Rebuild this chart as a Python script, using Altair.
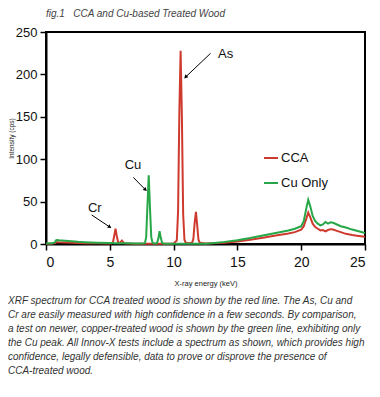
import altair as alt
import pandas as pd

# ---------------- data ----------------
energy_keV = [
    0.0, 0.5, 0.7, 0.8, 0.9, 1.0, 1.5, 2.0, 2.5, 3.0,
    4.0, 5.0, 5.15, 5.25, 5.35, 5.45, 5.55, 5.65, 5.75, 5.85,
    5.95, 6.05, 6.15, 6.5, 7.0, 7.5, 7.75, 7.85, 7.95, 8.05,
    8.15, 8.25, 8.35, 8.5, 8.7, 8.8, 8.9, 9.0, 9.1, 9.2,
    9.5, 10.0, 10.25, 10.35, 10.45, 10.55, 10.65, 10.75, 10.85, 10.95,
    11.2, 11.45, 11.55, 11.65, 11.75, 11.85, 11.95, 12.05, 12.5, 13.0,
    14.0, 15.0, 16.0, 17.0, 18.0, 19.0, 19.5, 20.0, 20.2, 20.4,
    20.55, 20.7, 20.9, 21.1, 21.3, 21.5, 21.7, 21.9, 22.1, 22.3,
    22.5, 22.8, 23.1, 23.5, 24.0, 24.5, 25.0,
]
cca_cps = [
    0.3, 0.5, 1.0, 2.0, 2.2, 2.0, 1.8, 1.5, 1.2, 1.0,
    0.8, 0.6, 0.8, 2.0, 10, 18, 9, 2, 1.0, 2.5,
    4.0, 2.0, 0.8, 0.5, 0.4, 0.4, 0.4, 0.4, 0.4, 0.4,
    0.4, 0.4, 0.4, 0.4, 0.4, 0.4, 0.4, 0.4, 0.4, 0.4,
    0.4, 0.6, 4, 38, 155, 228, 150, 35, 5, 1.5,
    1.0, 1.5, 6, 25, 38, 22, 5, 1.5, 0.6, 0.8,
    1.5, 3, 5, 7.5, 10, 12.5, 14, 17, 21, 30,
    37, 32, 24, 20, 18, 16, 16.5, 15, 16.5, 17.5,
    17, 15.5, 14, 12, 10.5, 9.5, 8.5,
]
cu_only_cps = [
    0.5, 0.8, 2.0, 4.5, 4.8, 4.5, 3.8, 3.2, 2.6, 2.2,
    1.6, 1.2, 1.1, 1.1, 1.0, 1.0, 1.0, 1.0, 0.9, 0.9,
    0.9, 0.8, 0.8, 0.8, 0.7, 0.7, 1.0, 8, 45, 81,
    42, 8, 1.2, 0.6, 1.0, 6, 15, 7, 1.5, 0.6,
    0.4, 0.3, 0.3, 0.3, 0.3, 0.3, 0.3, 0.3, 0.3, 0.3,
    0.3, 0.3, 0.3, 0.3, 0.3, 0.3, 0.3, 0.3, 0.4, 1.0,
    2.5, 4.5, 7, 10, 13, 16, 18, 21, 27, 42,
    52, 45, 33, 27, 24, 22, 23, 26, 24, 25.5,
    25, 23, 21, 19.5, 17, 15, 13,
]
series_names = ["CCA", "Cu Only"]
series_colors = ["#cf3a2e", "#27a748"]

x_ticks = [0, 5, 10, 15, 20, 25]
y_ticks = [0, 50, 100, 150, 200, 250]

ann_labels = ["Cr", "Cu", "As"]
ann_label_x = [3.82, 6.82, 14.07]
ann_label_y = [43, 92.6, 224.6]
arrow_x = [3.58, 6.84, 12.9]
arrow_y = [34.2, 78.6, 224.9]
arrow_x2 = [4.96, 7.76, 10.97]
arrow_y2 = [20.4, 64.5, 197.3]
arrow_angle = [125, 132, 226]

title_text = "fig.1\u00a0\u00a0\u00a0CCA and Cu-based Treated Wood"
caption_lines = [
    "XRF spectrum for CCA treated wood is shown by the red line. The As, Cu and",
    "Cr are easily measured with high confidence in a few seconds. By comparison,",
    "a test on newer, copper-treated wood is shown by the green line, exhibiting only",
    "the Cu peak. All Innov-X tests include a spectrum as shown, which provides high",
    "confidence, legally defensible, data to prove or disprove the presence of",
    "CCA-treated wood.",
]

# ---------------- tables ----------------
cca_df = pd.DataFrame({"energy": energy_keV, "cps": cca_cps, "series": series_names[0]})
cu_df = pd.DataFrame({"energy": energy_keV, "cps": cu_only_cps, "series": series_names[1]})
ann_df = pd.DataFrame({
    "label": ann_labels, "lx": ann_label_x, "ly": ann_label_y,
    "ax": arrow_x, "ay": arrow_y, "ax2": arrow_x2, "ay2": arrow_y2,
    "angle": arrow_angle,
})
caption_df = pd.DataFrame({"k": [0]})

FONT = "Liberation Sans"

xscale = alt.Scale(domain=[0, 25], nice=False, zero=False)
yscale = alt.Scale(domain=[0, 250], nice=False)
color = alt.Color(
    "series:N",
    scale=alt.Scale(domain=series_names, range=series_colors),
    legend=alt.Legend(
        title=None, orient="none", legendX=217, legendY=118,
        symbolType="stroke", symbolSize=196, symbolStrokeWidth=2,
        labelFont=FONT, labelFontSize=13, labelColor="#111",
        rowPadding=10, padding=0, labelOffset=2,
    ),
)

xaxis = alt.Axis(values=x_ticks, title="X-ray energy (keV)", grid=False,
                 labelFont=FONT, labelFontSize=14, labelColor="#111",
                 labelPadding=5, tickSize=6, tickColor="black", tickWidth=1.5,
                 domainColor="black", domainWidth=2,
                 titleFont=FONT, titleFontSize=7.5, titleFontWeight="normal",
                 titleColor="#222", titlePadding=10)
yaxis = alt.Axis(values=y_ticks, title="Intensity (cps)", grid=False,
                 labelFont=FONT, labelFontSize=13, labelColor="#111",
                 labelPadding=3, tickSize=6, tickColor="black", tickWidth=1.5,
                 domainColor="black", domainWidth=2,
                 titleFont=FONT, titleFontSize=6.5, titleFontWeight="normal",
                 titleColor="#222", titlePadding=1)

red_line = alt.Chart(cca_df).mark_line(strokeWidth=2).encode(
    x=alt.X("energy:Q", scale=xscale, axis=xaxis),
    y=alt.Y("cps:Q", scale=yscale, axis=yaxis),
    color=color,
)
green_line = alt.Chart(cu_df).mark_line(strokeWidth=2).encode(
    x=alt.X("energy:Q", scale=xscale),
    y=alt.Y("cps:Q", scale=yscale),
    color=color,
)

arrows = alt.Chart(ann_df).mark_rule(color="black", strokeWidth=1).encode(
    x="ax:Q", y="ay:Q", x2="ax2:Q", y2="ay2:Q"
)
heads = alt.Chart(ann_df).mark_point(shape="triangle", filled=True, color="black",
                                     size=18, opacity=1).encode(
    x="ax2:Q", y="ay2:Q", angle=alt.Angle("angle:Q", scale=None)
)
labels = alt.Chart(ann_df).mark_text(font=FONT, fontSize=13, color="#111",
                                     align="center", baseline="middle").encode(
    x="lx:Q", y="ly:Q", text="label:N"
)

caption = alt.Chart(caption_df).mark_text(
    text=caption_lines, font=FONT, fontSize=10, fontStyle="italic",
    color="#333", align="left", baseline="top", lineHeight=14,
).encode(x=alt.value(-38), y=alt.value(264))

chart = alt.layer(red_line, green_line, arrows, heads, labels, caption).properties(
    width=319, height=212,
    title=alt.TitleParams(title_text, anchor="start", frame="group", font=FONT,
                          fontSize=10, fontStyle="italic", fontWeight="normal",
                          color="#444", offset=7),
    autosize=alt.AutoSizeParams(type="none"),
    padding={"left": 38, "top": 24, "right": 7, "bottom": 145},
).configure_view(stroke="black", strokeWidth=2)

chart.save("out.html", embed_options={"renderer": "svg", "actions": False})
